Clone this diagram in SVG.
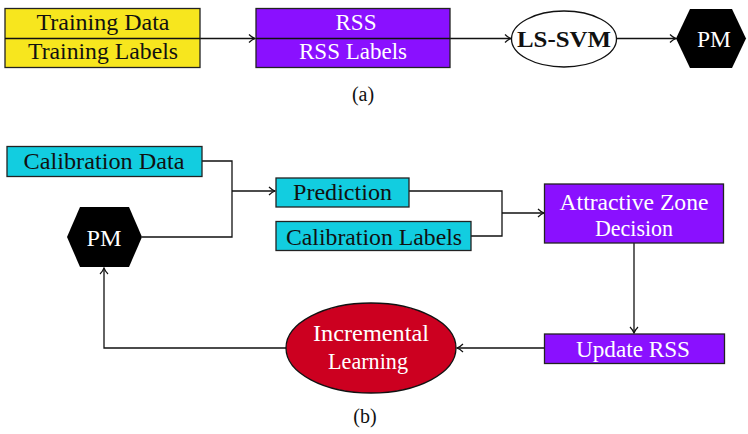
<svg xmlns="http://www.w3.org/2000/svg" width="748" height="434" viewBox="0 0 748 434">
<style>
text{font-family:"Liberation Serif","DejaVu Serif",serif;font-size:24px;text-anchor:middle}
.dk{fill:#111}
.wt{fill:#fff}
.box{stroke:#222;stroke-width:1.3}
.yel{fill:#f7e61e}
.pur{fill:#8a10ff}
.cya{fill:#12cde0}
.red{fill:#cc0020}
.ln{fill:none;stroke:#111;stroke-width:1.3}
.cap{font-size:20px}
</style>
<defs>
<marker id="ah" viewBox="0 0 10 10" refX="9" refY="5" markerWidth="10" markerHeight="10" markerUnits="userSpaceOnUse" orient="auto">
<path d="M3,1 Q6,4 9,5 Q6,6 3,9" fill="none" stroke="#111" stroke-width="1.2"/>
</marker>
</defs>
<g id="connectors">
<line class="ln" x1="200" y1="38.5" x2="255" y2="38.5" marker-end="url(#ah)"/>
<line class="ln" x1="450" y1="38.5" x2="511" y2="38.5" marker-end="url(#ah)"/>
<line class="ln" x1="616" y1="38.5" x2="676" y2="38.5" marker-end="url(#ah)"/>
<polyline class="ln" points="202,161 232,161 232,237 142,237"/>
<line class="ln" x1="232" y1="191" x2="275" y2="191" marker-end="url(#ah)"/>
<polyline class="ln" points="409,191 502,191 502,236 471,236"/>
<line class="ln" x1="502" y1="213" x2="544" y2="213" marker-end="url(#ah)"/>
<line class="ln" x1="634" y1="243" x2="634" y2="333" marker-end="url(#ah)"/>
<line class="ln" x1="544" y1="348" x2="457" y2="348" marker-end="url(#ah)"/>
<polyline class="ln" points="286,348 104,348 104,268" marker-end="url(#ah)"/>
</g>
<g id="training">
<rect class="box yel" x="5" y="8.5" width="195" height="59"/>
<line class="ln" x1="5" y1="38.5" x2="200" y2="38.5"/>
<text class="dk" x="103" y="30" textLength="133" lengthAdjust="spacingAndGlyphs">Training Data</text>
<text class="dk" x="103" y="59" textLength="150" lengthAdjust="spacingAndGlyphs">Training Labels</text>
</g>
<g id="rss">
<rect class="box pur" x="256" y="8.5" width="194" height="59"/>
<line class="ln" x1="256" y1="38.5" x2="450" y2="38.5"/>
<text class="wt" x="356" y="30" textLength="41" lengthAdjust="spacingAndGlyphs">RSS</text>
<text class="wt" x="353" y="59" textLength="108" lengthAdjust="spacingAndGlyphs">RSS Labels</text>
</g>
<g id="lssvm">
<ellipse cx="564" cy="39" rx="52.5" ry="28" fill="#fff" stroke="#111" stroke-width="1.3"/>
<text class="dk" x="564" y="47" font-weight="bold" textLength="94" lengthAdjust="spacingAndGlyphs">LS-SVM</text>
</g>
<g id="pm-a">
<polygon points="676,38.5 690,9 732,9 746,38.5 732,68 690,68" fill="#000"/>
<text class="wt" x="714" y="47" textLength="34" lengthAdjust="spacingAndGlyphs">PM</text>
</g>
<text class="dk cap" x="363" y="101">(a)</text>
<g id="calib-data">
<rect class="box cya" x="7" y="146.5" width="195" height="30"/>
<text class="dk" x="104" y="169" textLength="161" lengthAdjust="spacingAndGlyphs">Calibration Data</text>
</g>
<g id="pm-b">
<polygon points="67,237 80,207 129,207 142,237 129,267 80,267" fill="#000"/>
<text class="wt" x="104" y="246" textLength="35" lengthAdjust="spacingAndGlyphs">PM</text>
</g>
<g id="prediction">
<rect class="box cya" x="276" y="178" width="133" height="29"/>
<text class="dk" x="342.5" y="200" textLength="99" lengthAdjust="spacingAndGlyphs">Prediction</text>
</g>
<g id="calib-labels">
<rect class="box cya" x="276" y="221.5" width="195" height="29"/>
<text class="dk" x="374" y="245" textLength="176" lengthAdjust="spacingAndGlyphs">Calibration Labels</text>
</g>
<g id="azd">
<rect class="box pur" x="544.5" y="184" width="179" height="59"/>
<text class="wt" x="634" y="210" textLength="149" lengthAdjust="spacingAndGlyphs">Attractive Zone</text>
<text class="wt" x="634" y="236" textLength="78" lengthAdjust="spacingAndGlyphs">Decision</text>
</g>
<g id="update-rss">
<rect class="box pur" x="544.5" y="334" width="180" height="29.5"/>
<text class="wt" x="633" y="357" textLength="114" lengthAdjust="spacingAndGlyphs">Update RSS</text>
</g>
<g id="incremental">
<ellipse cx="371" cy="348" rx="85" ry="45" class="red" stroke="#111" stroke-width="1.3"/>
<text class="wt" x="371" y="341" textLength="116" lengthAdjust="spacingAndGlyphs">Incremental</text>
<text class="wt" x="368" y="369" textLength="80" lengthAdjust="spacingAndGlyphs">Learning</text>
</g>
<text class="dk cap" x="365" y="423">(b)</text>
</svg>
